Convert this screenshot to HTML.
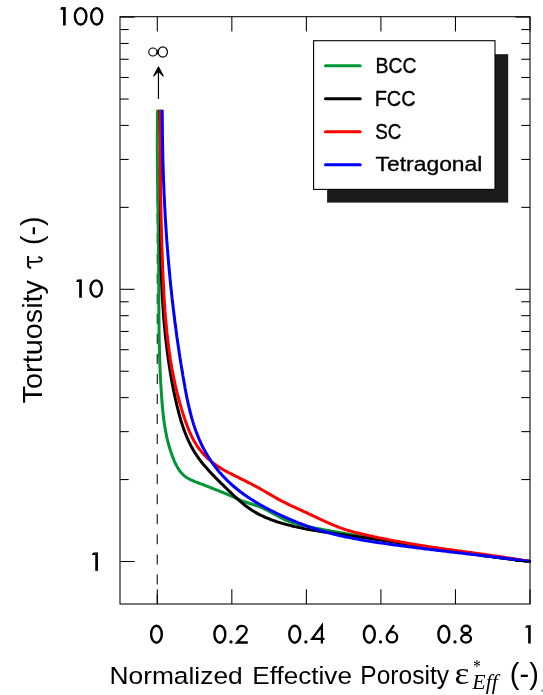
<!DOCTYPE html>
<html><head><meta charset="utf-8"><style>
html,body{margin:0;padding:0;background:#fff;width:543px;height:695px;overflow:hidden;font-family:"Liberation Sans",sans-serif;}
svg{display:block;will-change:transform}
</style></head><body>
<svg width="543" height="695" viewBox="0 0 543 695"><rect width="543" height="695" fill="#fff"/>
<line x1="157.30" y1="113.3" x2="157.30" y2="604.0" stroke="#333" stroke-width="1.3" stroke-dasharray="10 10.05"/>
<defs><clipPath id="cc"><rect x="120" y="109.8" width="411.2" height="494"/></clipPath></defs>
<g clip-path="url(#cc)">
<path d="M157.6,105.8 L157.6,107.4 L157.6,109.1 L157.6,110.7 L157.6,112.3 L157.5,114.0 L157.5,115.6 L157.5,117.2 L157.5,118.9 L157.4,120.5 L157.4,122.2 L157.4,123.8 L157.4,125.4 L157.4,127.1 L157.4,128.7 L157.4,130.3 L157.4,132.0 L157.3,133.6 L157.3,135.2 L157.3,136.9 L157.3,138.5 L157.3,140.1 L157.3,141.8 L157.3,143.4 L157.3,145.1 L157.3,146.7 L157.3,148.3 L157.3,150.0 L157.3,151.6 L157.3,153.2 L157.4,154.9 L157.4,156.5 L157.4,158.1 L157.4,159.8 L157.4,161.4 L157.4,163.0 L157.4,164.7 L157.4,166.3 L157.4,167.9 L157.5,169.6 L157.5,171.2 L157.5,172.8 L157.5,174.5 L157.5,176.1 L157.5,177.8 L157.6,179.4 L157.6,181.0 L157.6,182.7 L157.6,184.3 L157.6,185.9 L157.7,187.6 L157.7,189.2 L157.7,190.8 L157.7,192.5 L157.7,194.1 L157.8,195.7 L157.8,197.4 L157.8,199.0 L157.8,200.6 L157.9,202.3 L157.9,203.9 L157.9,205.5 L157.9,207.2 L158.0,208.8 L158.0,210.4 L158.0,212.1 L158.0,213.7 L158.0,215.3 L158.1,217.0 L158.1,218.6 L158.1,220.3 L158.1,221.9 L158.2,223.5 L158.2,225.2 L158.2,226.8 L158.2,228.4 L158.3,230.1 L158.3,231.7 L158.3,233.3 L158.3,235.0 L158.4,236.6 L158.4,238.2 L158.4,239.9 L158.4,241.5 L158.4,243.1 L158.5,244.8 L158.5,246.4 L158.5,248.0 L158.5,249.7 L158.5,251.3 L158.6,253.0 L158.6,254.6 L158.6,256.2 L158.6,257.9 L158.6,259.5 L158.6,261.1 L158.6,262.8 L158.7,264.4 L158.7,266.0 L158.7,267.7 L158.7,269.3 L158.7,270.9 L158.7,272.6 L158.7,274.2 L158.7,275.8 L158.7,277.5 L158.7,279.1 L158.7,280.8 L158.7,282.4 L158.8,284.0 L158.8,285.7 L158.8,287.3 L158.8,288.9 L158.8,290.6 L158.8,292.2 L158.8,293.8 L158.8,295.5 L158.8,297.1 L158.8,298.8 L158.8,300.4 L158.8,302.0 L158.8,303.7 L158.8,305.3 L158.8,306.9 L158.9,308.6 L158.9,310.2 L158.9,311.8 L158.9,313.5 L158.9,315.1 L158.9,316.7 L158.9,318.4 L158.9,320.0 L159.0,321.7 L159.0,323.3 L159.0,324.9 L159.0,326.6 L159.0,328.2 L159.0,329.8 L159.1,331.5 L159.1,333.1 L159.1,334.7 L159.1,336.4 L159.2,338.0 L159.2,339.6 L159.2,341.3 L159.3,342.9 L159.3,344.5 L159.3,346.2 L159.4,347.8 L159.4,349.4 L159.5,351.1 L159.5,352.7 L159.5,354.4 L159.6,356.0 L159.6,357.6 L159.7,359.3 L159.7,360.9 L159.8,362.5 L159.9,364.2 L159.9,365.8 L160.0,367.4 L160.1,369.1 L160.1,370.7 L160.2,372.3 L160.3,374.0 L160.4,375.6 L160.4,377.2 L160.5,378.9 L160.6,380.5 L160.7,382.1 L160.8,383.7 L160.9,385.4 L161.0,387.0 L161.1,388.6 L161.2,390.3 L161.3,391.9 L161.4,393.5 L161.5,395.2 L161.6,396.8 L161.8,398.4 L161.9,400.1 L162.0,401.7 L162.1,403.3 L162.3,405.0 L162.4,406.6 L162.6,408.2 L162.7,409.8 L162.9,411.5 L163.1,413.1 L163.2,414.7 L163.4,416.3 L163.6,418.0 L163.8,419.6 L164.0,421.2 L164.2,422.8 L164.5,424.4 L164.7,426.0 L165.0,427.7 L165.3,429.3 L165.6,430.9 L165.9,432.5 L166.2,434.1 L166.5,435.7 L166.8,437.3 L167.2,438.9 L167.6,440.5 L168.0,442.0 L168.4,443.6 L168.8,445.2 L169.3,446.8 L169.7,448.3 L170.2,449.9 L170.7,451.5 L171.3,453.0 L171.8,454.6 L172.4,456.2 L173.0,457.7 L173.6,459.2 L174.2,460.8 L174.9,462.3 L175.6,463.8 L176.4,465.3 L177.1,466.7 L178.0,468.1 L178.8,469.5 L179.8,470.8 L180.7,472.1 L181.8,473.3 L182.9,474.5 L184.0,475.6 L185.3,476.6 L186.6,477.5 L187.9,478.3 L189.3,479.1 L190.8,479.8 L192.3,480.5 L193.9,481.1 L195.4,481.8 L197.0,482.4 L198.5,483.0 L200.1,483.6 L201.6,484.1 L203.1,484.7 L204.7,485.3 L206.2,485.9 L207.7,486.5 L209.3,487.1 L210.8,487.7 L212.3,488.3 L213.8,488.9 L215.3,489.5 L216.9,490.1 L218.4,490.7 L219.9,491.3 L221.4,491.9 L222.9,492.5 L224.4,493.1 L225.8,493.7 L227.3,494.4 L228.8,495.0 L230.3,495.7 L231.8,496.3 L233.2,497.0 L234.7,497.7 L236.2,498.3 L237.7,499.0 L239.2,499.6 L240.7,500.3 L242.2,500.9 L243.7,501.5 L245.2,502.0 L246.7,502.5 L248.3,503.0 L249.9,503.5 L251.4,504.0 L253.0,504.5 L254.6,505.0 L256.1,505.5 L257.6,506.0 L259.2,506.6 L260.7,507.2 L262.2,507.9 L263.7,508.6 L265.1,509.3 L266.6,510.0 L268.1,510.8 L269.5,511.6 L271.0,512.3 L272.4,513.1 L273.9,513.9 L275.3,514.7 L276.8,515.5 L278.2,516.3 L279.7,517.1 L281.1,517.8 L282.6,518.6 L284.0,519.3 L285.5,520.0 L287.0,520.6 L288.5,521.2 L290.0,521.8 L291.5,522.4 L293.1,522.9 L294.6,523.4 L296.2,523.8 L297.8,524.3 L299.3,524.7 L300.9,525.1 L302.5,525.4 L304.1,525.8 L305.7,526.1 L307.3,526.5 L308.9,526.8 L310.5,527.1 L312.1,527.4 L313.7,527.8 L315.3,528.1 L316.9,528.4 L318.5,528.7 L320.1,529.0 L321.7,529.3 L323.3,529.6 L325.0,529.9 L326.6,530.2 L328.2,530.5 L329.8,530.8 L331.4,531.1 L333.0,531.4 L334.6,531.6 L336.2,531.9 L337.8,532.2 L339.4,532.5 L341.1,532.8 L342.7,533.0 L344.3,533.3 L345.9,533.6 L347.5,533.9 L349.1,534.1 L350.7,534.4 L352.3,534.7 L354.0,534.9 L355.6,535.2 L357.2,535.5 L358.8,535.7 L360.4,536.0 L362.0,536.3 L363.6,536.6 L365.3,536.8 L366.9,537.1 L368.5,537.4 L370.1,537.6 L371.7,537.9 L373.3,538.2 L374.9,538.5 L376.5,538.7 L378.2,539.0 L379.8,539.3 L381.4,539.5 L383.0,539.8 L384.6,540.1 L386.2,540.3 L387.8,540.6 L389.4,540.9 L391.1,541.1 L392.7,541.4 L394.3,541.7 L395.9,541.9 L397.5,542.2 L399.1,542.5 L400.7,542.7 L402.4,543.0 L404.0,543.3 L405.6,543.5 L407.2,543.8 L408.8,544.1 L410.4,544.3 L412.0,544.6 L413.6,544.9 L415.3,545.1 L416.9,545.4 L418.5,545.7 L420.1,545.9 L421.7,546.2 L423.3,546.4 L424.9,546.7 L426.6,546.9 L428.2,547.2 L429.8,547.5 L431.4,547.7 L433.0,548.0 L434.6,548.2 L436.2,548.5 L437.9,548.7 L439.5,549.0 L441.1,549.2 L442.7,549.5 L444.3,549.7 L445.9,550.0 L447.6,550.2 L449.2,550.5 L450.8,550.7 L452.4,551.0 L454.0,551.2 L455.6,551.5 L457.2,551.7 L458.9,552.0 L460.5,552.2 L462.1,552.4 L463.7,552.7 L465.3,552.9 L467.0,553.2 L468.6,553.4 L470.2,553.6 L471.8,553.9 L473.4,554.1 L475.0,554.3 L476.7,554.6 L478.3,554.8 L479.9,555.0 L481.5,555.3 L483.1,555.5 L484.8,555.7 L486.4,555.9 L488.0,556.2 L489.6,556.4 L491.2,556.6 L492.9,556.8 L494.5,557.0 L496.1,557.2 L497.7,557.5 L499.3,557.7 L501.0,557.9 L502.6,558.1 L504.2,558.3 L505.8,558.5 L507.5,558.7 L509.1,558.9 L510.7,559.1 L512.3,559.3 L513.9,559.5 L515.6,559.7 L517.2,559.9 L518.8,560.1 L520.4,560.3 L522.1,560.5 L523.7,560.7 L525.3,560.9 L526.9,561.1 L528.6,561.3 L530.2,561.5 L531.0,561.6" fill="none" stroke="#009634" stroke-width="3" stroke-linejoin="round"/>
<path d="M160.0,105.8 L159.8,107.4 L159.8,109.0 L159.9,110.6 L159.9,112.2 L160.0,113.8 L160.0,115.4 L160.0,117.0 L160.1,118.6 L160.1,120.1 L160.1,121.7 L160.2,123.3 L160.2,124.9 L160.2,126.5 L160.3,128.1 L160.3,129.7 L160.3,131.3 L160.3,132.9 L160.3,134.5 L160.4,136.1 L160.4,137.7 L160.4,139.2 L160.4,140.8 L160.4,142.4 L160.4,144.0 L160.5,145.6 L160.5,147.2 L160.5,148.8 L160.5,150.4 L160.5,152.0 L160.5,153.6 L160.5,155.2 L160.5,156.8 L160.5,158.4 L160.5,160.0 L160.5,161.6 L160.5,163.2 L160.5,164.8 L160.5,166.4 L160.5,168.0 L160.5,169.6 L160.5,171.2 L160.5,172.8 L160.5,174.4 L160.5,176.0 L160.5,177.6 L160.5,179.2 L160.5,180.8 L160.5,182.4 L160.5,184.0 L160.5,185.6 L160.5,187.2 L160.5,188.8 L160.5,190.4 L160.5,192.0 L160.5,193.6 L160.5,195.2 L160.5,196.8 L160.5,198.4 L160.5,200.0 L160.5,201.6 L160.5,203.2 L160.5,204.8 L160.5,206.4 L160.5,208.0 L160.5,209.6 L160.5,211.2 L160.5,212.8 L160.5,214.4 L160.5,216.0 L160.5,217.6 L160.5,219.2 L160.5,220.8 L160.5,222.4 L160.5,224.0 L160.5,225.6 L160.5,227.2 L160.5,228.8 L160.5,230.4 L160.6,232.0 L160.6,233.6 L160.6,235.2 L160.6,236.8 L160.6,238.4 L160.6,240.0 L160.6,241.6 L160.7,243.2 L160.7,244.8 L160.7,246.4 L160.7,248.0 L160.8,249.6 L160.8,251.2 L160.8,252.8 L160.8,254.4 L160.9,256.0 L160.9,257.6 L160.9,259.2 L161.0,260.8 L161.0,262.4 L161.1,264.0 L161.1,265.6 L161.1,267.2 L161.2,268.8 L161.2,270.4 L161.3,272.0 L161.3,273.6 L161.4,275.2 L161.4,276.8 L161.5,278.4 L161.6,280.0 L161.6,281.6 L161.7,283.2 L161.8,284.8 L161.8,286.4 L161.9,288.0 L162.0,289.6 L162.1,291.2 L162.1,292.8 L162.2,294.4 L162.3,296.0 L162.4,297.6 L162.5,299.2 L162.6,300.8 L162.7,302.4 L162.8,304.0 L162.9,305.6 L163.0,307.2 L163.1,308.8 L163.2,310.4 L163.3,311.9 L163.4,313.5 L163.5,315.1 L163.7,316.7 L163.8,318.3 L163.9,319.9 L164.1,321.5 L164.2,323.1 L164.3,324.7 L164.5,326.3 L164.6,327.9 L164.8,329.4 L164.9,331.0 L165.1,332.6 L165.2,334.2 L165.4,335.8 L165.6,337.4 L165.7,339.0 L165.9,340.5 L166.1,342.1 L166.3,343.7 L166.5,345.3 L166.7,346.9 L166.9,348.5 L167.1,350.1 L167.3,351.6 L167.5,353.2 L167.7,354.8 L167.9,356.4 L168.1,358.0 L168.3,359.5 L168.6,361.1 L168.8,362.7 L169.0,364.3 L169.3,365.9 L169.5,367.4 L169.8,369.0 L170.0,370.6 L170.3,372.2 L170.5,373.7 L170.8,375.3 L171.1,376.9 L171.4,378.5 L171.6,380.0 L171.9,381.6 L172.2,383.2 L172.5,384.7 L172.8,386.3 L173.1,387.9 L173.4,389.4 L173.7,391.0 L174.1,392.6 L174.4,394.1 L174.7,395.7 L175.1,397.3 L175.4,398.8 L175.8,400.4 L176.1,402.0 L176.5,403.5 L176.8,405.1 L177.2,406.6 L177.6,408.2 L178.0,409.8 L178.4,411.3 L178.8,412.9 L179.2,414.4 L179.6,415.9 L180.0,417.5 L180.5,419.0 L180.9,420.5 L181.4,422.1 L181.9,423.6 L182.4,425.1 L182.9,426.6 L183.4,428.1 L183.9,429.6 L184.5,431.1 L185.0,432.6 L185.6,434.0 L186.2,435.5 L186.8,437.0 L187.4,438.4 L188.1,439.9 L188.7,441.3 L189.4,442.7 L190.1,444.1 L190.8,445.5 L191.6,446.9 L192.3,448.3 L193.1,449.7 L193.9,451.0 L194.7,452.4 L195.5,453.7 L196.4,455.0 L197.3,456.3 L198.2,457.6 L199.1,458.9 L200.1,460.2 L201.0,461.5 L202.0,462.7 L203.0,464.0 L204.1,465.2 L205.1,466.4 L206.2,467.6 L207.2,468.8 L208.3,470.0 L209.4,471.2 L210.5,472.4 L211.6,473.6 L212.7,474.8 L213.9,475.9 L215.0,477.1 L216.1,478.3 L217.3,479.4 L218.4,480.6 L219.6,481.7 L220.7,482.9 L221.9,484.0 L223.1,485.1 L224.2,486.3 L225.4,487.4 L226.5,488.6 L227.7,489.7 L228.8,490.8 L230.0,491.9 L231.2,493.1 L232.3,494.2 L233.5,495.3 L234.6,496.4 L235.8,497.5 L237.0,498.5 L238.2,499.6 L239.4,500.7 L240.6,501.7 L241.8,502.7 L243.0,503.7 L244.2,504.7 L245.5,505.7 L246.7,506.6 L248.0,507.5 L249.3,508.4 L250.6,509.3 L251.9,510.2 L253.2,511.0 L254.5,511.8 L255.9,512.6 L257.2,513.4 L258.6,514.1 L260.0,514.8 L261.4,515.5 L262.9,516.2 L264.3,516.9 L265.7,517.5 L267.2,518.1 L268.7,518.7 L270.1,519.3 L271.6,519.9 L273.1,520.4 L274.6,520.9 L276.1,521.5 L277.6,522.0 L279.2,522.4 L280.7,522.9 L282.2,523.4 L283.8,523.8 L285.3,524.2 L286.9,524.6 L288.4,525.0 L290.0,525.4 L291.5,525.8 L293.1,526.2 L294.7,526.6 L296.2,526.9 L297.8,527.3 L299.4,527.6 L300.9,527.9 L302.5,528.2 L304.1,528.6 L305.7,528.9 L307.2,529.2 L308.8,529.5 L310.4,529.8 L312.0,530.0 L313.5,530.3 L315.1,530.6 L316.7,530.8 L318.3,531.1 L319.9,531.4 L321.4,531.6 L323.0,531.9 L324.6,532.1 L326.2,532.3 L327.8,532.6 L329.3,532.8 L330.9,533.0 L332.5,533.3 L334.1,533.5 L335.7,533.7 L337.3,533.9 L338.8,534.2 L340.4,534.4 L342.0,534.6 L343.6,534.8 L345.2,535.0 L346.8,535.2 L348.4,535.5 L349.9,535.7 L351.5,535.9 L353.1,536.1 L354.7,536.3 L356.3,536.5 L357.9,536.8 L359.4,537.0 L361.0,537.2 L362.6,537.4 L364.2,537.6 L365.8,537.9 L367.4,538.1 L368.9,538.3 L370.5,538.5 L372.1,538.8 L373.7,539.0 L375.3,539.2 L376.8,539.5 L378.4,539.7 L380.0,539.9 L381.6,540.2 L383.2,540.4 L384.7,540.6 L386.3,540.9 L387.9,541.1 L389.5,541.4 L391.1,541.6 L392.6,541.8 L394.2,542.1 L395.8,542.3 L397.4,542.6 L398.9,542.8 L400.5,543.0 L402.1,543.3 L403.7,543.5 L405.3,543.8 L406.8,544.0 L408.4,544.3 L410.0,544.5 L411.6,544.7 L413.1,545.0 L414.7,545.2 L416.3,545.5 L417.9,545.7 L419.5,546.0 L421.0,546.2 L422.6,546.5 L424.2,546.7 L425.8,546.9 L427.3,547.2 L428.9,547.4 L430.5,547.7 L432.1,547.9 L433.7,548.2 L435.2,548.4 L436.8,548.6 L438.4,548.9 L440.0,549.1 L441.5,549.4 L443.1,549.6 L444.7,549.9 L446.3,550.1 L447.9,550.3 L449.4,550.6 L451.0,550.8 L452.6,551.1 L454.2,551.3 L455.7,551.5 L457.3,551.8 L458.9,552.0 L460.5,552.2 L462.1,552.5 L463.6,552.7 L465.2,553.0 L466.8,553.2 L468.4,553.4 L470.0,553.6 L471.5,553.9 L473.1,554.1 L474.7,554.3 L476.3,554.6 L477.9,554.8 L479.4,555.0 L481.0,555.2 L482.6,555.5 L484.2,555.7 L485.8,555.9 L487.4,556.1 L488.9,556.3 L490.5,556.6 L492.1,556.8 L493.7,557.0 L495.3,557.2 L496.9,557.4 L498.4,557.6 L500.0,557.8 L501.6,558.0 L503.2,558.2 L504.8,558.4 L506.4,558.6 L508.0,558.8 L509.6,559.0 L511.1,559.2 L512.7,559.4 L514.3,559.6 L515.9,559.8 L517.5,560.0 L519.1,560.2 L520.7,560.4 L522.3,560.6 L523.9,560.8 L525.4,560.9 L527.0,561.1 L528.6,561.3 L530.2,561.5 L531.0,561.6" fill="none" stroke="#000" stroke-width="3" stroke-linejoin="round"/>
<path d="M160.3,105.8 L160.3,107.3 L160.3,108.9 L160.3,110.5 L160.3,112.1 L160.3,113.6 L160.3,115.2 L160.2,116.8 L160.2,118.4 L160.2,119.9 L160.2,121.5 L160.2,123.1 L160.2,124.7 L160.2,126.2 L160.2,127.8 L160.2,129.4 L160.2,131.0 L160.2,132.5 L160.2,134.1 L160.2,135.7 L160.2,137.2 L160.2,138.8 L160.2,140.4 L160.2,142.0 L160.2,143.5 L160.2,145.1 L160.2,146.7 L160.2,148.2 L160.2,149.8 L160.2,151.4 L160.2,152.9 L160.2,154.5 L160.2,156.1 L160.2,157.6 L160.2,159.2 L160.2,160.8 L160.3,162.4 L160.3,163.9 L160.3,165.5 L160.3,167.1 L160.3,168.6 L160.3,170.2 L160.3,171.8 L160.4,173.3 L160.4,174.9 L160.4,176.5 L160.4,178.0 L160.4,179.6 L160.4,181.2 L160.5,182.7 L160.5,184.3 L160.5,185.9 L160.5,187.4 L160.5,189.0 L160.6,190.6 L160.6,192.1 L160.6,193.7 L160.6,195.3 L160.7,196.8 L160.7,198.4 L160.7,200.0 L160.8,201.5 L160.8,203.1 L160.8,204.7 L160.9,206.2 L160.9,207.8 L160.9,209.4 L161.0,210.9 L161.0,212.5 L161.0,214.1 L161.1,215.6 L161.1,217.2 L161.1,218.8 L161.2,220.3 L161.2,221.9 L161.2,223.5 L161.3,225.0 L161.3,226.6 L161.4,228.2 L161.4,229.7 L161.5,231.3 L161.5,232.9 L161.5,234.4 L161.6,236.0 L161.6,237.6 L161.7,239.1 L161.7,240.7 L161.8,242.3 L161.8,243.8 L161.9,245.4 L161.9,247.0 L162.0,248.6 L162.0,250.1 L162.1,251.7 L162.2,253.3 L162.2,254.8 L162.3,256.4 L162.3,258.0 L162.4,259.5 L162.4,261.1 L162.5,262.7 L162.6,264.3 L162.6,265.8 L162.7,267.4 L162.7,269.0 L162.8,270.5 L162.9,272.1 L162.9,273.7 L163.0,275.2 L163.1,276.8 L163.1,278.4 L163.2,280.0 L163.3,281.5 L163.4,283.1 L163.4,284.7 L163.5,286.3 L163.6,287.8 L163.7,289.4 L163.8,291.0 L163.8,292.5 L163.9,294.1 L164.0,295.7 L164.1,297.3 L164.2,298.8 L164.3,300.4 L164.4,302.0 L164.5,303.5 L164.6,305.1 L164.7,306.7 L164.8,308.2 L164.9,309.8 L165.0,311.4 L165.2,312.9 L165.3,314.5 L165.4,316.1 L165.5,317.7 L165.7,319.2 L165.8,320.8 L165.9,322.3 L166.1,323.9 L166.2,325.5 L166.4,327.0 L166.5,328.6 L166.7,330.2 L166.8,331.7 L167.0,333.3 L167.2,334.9 L167.4,336.4 L167.5,338.0 L167.7,339.5 L167.9,341.1 L168.1,342.6 L168.3,344.2 L168.5,345.8 L168.7,347.3 L168.9,348.9 L169.1,350.4 L169.3,352.0 L169.5,353.5 L169.8,355.1 L170.0,356.6 L170.2,358.2 L170.5,359.7 L170.7,361.3 L171.0,362.8 L171.2,364.4 L171.5,365.9 L171.8,367.4 L172.0,369.0 L172.3,370.5 L172.6,372.1 L172.9,373.6 L173.2,375.1 L173.5,376.7 L173.8,378.2 L174.1,379.7 L174.5,381.3 L174.8,382.8 L175.1,384.3 L175.5,385.8 L175.8,387.4 L176.2,388.9 L176.5,390.4 L176.9,391.9 L177.3,393.5 L177.7,395.0 L178.1,396.5 L178.5,398.0 L178.9,399.5 L179.3,401.0 L179.7,402.6 L180.1,404.1 L180.6,405.6 L181.0,407.1 L181.4,408.6 L181.9,410.1 L182.4,411.6 L182.8,413.1 L183.3,414.6 L183.8,416.1 L184.3,417.6 L184.8,419.1 L185.3,420.6 L185.8,422.1 L186.4,423.5 L186.9,425.0 L187.5,426.5 L188.0,428.0 L188.6,429.4 L189.2,430.9 L189.8,432.3 L190.5,433.8 L191.1,435.2 L191.8,436.6 L192.5,438.0 L193.2,439.4 L194.0,440.8 L194.8,442.1 L195.6,443.5 L196.4,444.8 L197.2,446.1 L198.1,447.4 L199.0,448.7 L200.0,449.9 L201.0,451.2 L202.0,452.4 L203.0,453.5 L204.0,454.7 L205.1,455.8 L206.2,457.0 L207.4,458.1 L208.5,459.1 L209.7,460.2 L210.9,461.2 L212.1,462.2 L213.3,463.1 L214.6,464.1 L215.9,465.0 L217.1,465.9 L218.5,466.7 L219.8,467.6 L221.1,468.4 L222.5,469.2 L223.8,470.0 L225.2,470.8 L226.6,471.5 L228.0,472.3 L229.4,473.0 L230.8,473.7 L232.2,474.4 L233.6,475.1 L235.0,475.8 L236.4,476.5 L237.8,477.2 L239.2,477.9 L240.6,478.6 L242.0,479.3 L243.4,480.0 L244.8,480.7 L246.2,481.4 L247.6,482.1 L249.0,482.8 L250.4,483.5 L251.8,484.2 L253.2,485.0 L254.5,485.7 L255.9,486.4 L257.3,487.2 L258.7,487.9 L260.1,488.7 L261.4,489.5 L262.8,490.2 L264.2,491.0 L265.5,491.8 L266.9,492.6 L268.2,493.4 L269.6,494.1 L270.9,494.9 L272.3,495.7 L273.7,496.5 L275.0,497.3 L276.4,498.1 L277.7,498.9 L279.1,499.6 L280.5,500.4 L281.9,501.1 L283.3,501.8 L284.7,502.5 L286.1,503.2 L287.5,503.9 L288.9,504.6 L290.3,505.3 L291.7,505.9 L293.1,506.6 L294.6,507.2 L296.0,507.9 L297.4,508.5 L298.8,509.2 L300.3,509.8 L301.7,510.5 L303.1,511.1 L304.5,511.8 L306.0,512.5 L307.4,513.1 L308.8,513.8 L310.2,514.5 L311.7,515.1 L313.1,515.8 L314.5,516.5 L315.9,517.2 L317.4,517.8 L318.8,518.5 L320.2,519.2 L321.6,519.8 L323.1,520.5 L324.5,521.2 L325.9,521.8 L327.3,522.4 L328.8,523.1 L330.2,523.7 L331.7,524.3 L333.1,524.9 L334.5,525.5 L336.0,526.1 L337.5,526.7 L338.9,527.3 L340.4,527.8 L341.9,528.3 L343.3,528.8 L344.8,529.3 L346.3,529.8 L347.8,530.3 L349.3,530.7 L350.8,531.2 L352.3,531.6 L353.8,532.0 L355.3,532.4 L356.9,532.7 L358.4,533.1 L359.9,533.5 L361.4,533.8 L363.0,534.2 L364.5,534.5 L366.0,534.9 L367.6,535.2 L369.1,535.6 L370.6,535.9 L372.2,536.2 L373.7,536.6 L375.2,536.9 L376.8,537.2 L378.3,537.6 L379.8,537.9 L381.4,538.2 L382.9,538.5 L384.5,538.8 L386.0,539.1 L387.5,539.5 L389.1,539.8 L390.6,540.1 L392.2,540.4 L393.7,540.7 L395.2,540.9 L396.8,541.2 L398.3,541.5 L399.9,541.8 L401.4,542.1 L403.0,542.4 L404.5,542.6 L406.1,542.9 L407.6,543.2 L409.1,543.4 L410.7,543.7 L412.2,543.9 L413.8,544.2 L415.3,544.5 L416.9,544.7 L418.4,545.0 L420.0,545.2 L421.5,545.5 L423.1,545.7 L424.6,545.9 L426.2,546.2 L427.7,546.4 L429.3,546.7 L430.8,546.9 L432.4,547.1 L433.9,547.4 L435.5,547.6 L437.0,547.8 L438.6,548.1 L440.2,548.3 L441.7,548.5 L443.3,548.7 L444.8,548.9 L446.4,549.2 L447.9,549.4 L449.5,549.6 L451.0,549.8 L452.6,550.0 L454.1,550.3 L455.7,550.5 L457.2,550.7 L458.8,550.9 L460.4,551.1 L461.9,551.3 L463.5,551.6 L465.0,551.8 L466.6,552.0 L468.1,552.2 L469.7,552.4 L471.2,552.6 L472.8,552.8 L474.4,553.1 L475.9,553.3 L477.5,553.5 L479.0,553.7 L480.6,553.9 L482.1,554.1 L483.7,554.3 L485.2,554.6 L486.8,554.8 L488.3,555.0 L489.9,555.2 L491.5,555.4 L493.0,555.7 L494.6,555.9 L496.1,556.1 L497.7,556.3 L499.2,556.5 L500.8,556.8 L502.3,557.0 L503.9,557.2 L505.4,557.5 L507.0,557.7 L508.5,557.9 L510.1,558.2 L511.6,558.4 L513.2,558.6 L514.7,558.9 L516.3,559.1 L517.8,559.4 L519.4,559.6 L520.9,559.8 L522.5,560.1 L524.0,560.4 L525.6,560.6 L527.1,560.9 L528.7,561.1 L530.2,561.4 L531.0,561.6" fill="none" stroke="#ff0000" stroke-width="3" stroke-linejoin="round"/>
<path d="M162.3,105.8 L162.2,107.3 L162.2,108.9 L162.2,110.5 L162.2,112.0 L162.2,113.6 L162.2,115.2 L162.3,116.8 L162.3,118.4 L162.3,120.0 L162.3,121.6 L162.3,123.1 L162.3,124.7 L162.3,126.3 L162.3,127.9 L162.4,129.5 L162.4,131.0 L162.4,132.6 L162.4,134.2 L162.4,135.8 L162.5,137.4 L162.5,138.9 L162.5,140.5 L162.5,142.1 L162.6,143.7 L162.6,145.2 L162.6,146.8 L162.7,148.4 L162.7,150.0 L162.7,151.5 L162.8,153.1 L162.8,154.7 L162.8,156.3 L162.9,157.8 L162.9,159.4 L162.9,161.0 L163.0,162.6 L163.0,164.1 L163.1,165.7 L163.1,167.3 L163.2,168.9 L163.2,170.4 L163.3,172.0 L163.3,173.6 L163.4,175.1 L163.4,176.7 L163.5,178.3 L163.5,179.9 L163.6,181.4 L163.7,183.0 L163.7,184.6 L163.8,186.1 L163.8,187.7 L163.9,189.3 L164.0,190.8 L164.0,192.4 L164.1,194.0 L164.2,195.5 L164.3,197.1 L164.3,198.7 L164.4,200.2 L164.5,201.8 L164.6,203.4 L164.6,204.9 L164.7,206.5 L164.8,208.1 L164.9,209.6 L165.0,211.2 L165.1,212.8 L165.1,214.3 L165.2,215.9 L165.3,217.5 L165.4,219.0 L165.5,220.6 L165.6,222.2 L165.7,223.7 L165.8,225.3 L165.9,226.8 L166.0,228.4 L166.1,230.0 L166.2,231.5 L166.3,233.1 L166.4,234.7 L166.5,236.2 L166.6,237.8 L166.7,239.3 L166.8,240.9 L167.0,242.5 L167.1,244.0 L167.2,245.6 L167.3,247.2 L167.4,248.7 L167.6,250.3 L167.7,251.8 L167.8,253.4 L167.9,255.0 L168.1,256.5 L168.2,258.1 L168.3,259.6 L168.5,261.2 L168.6,262.8 L168.7,264.3 L168.9,265.9 L169.0,267.5 L169.1,269.0 L169.3,270.6 L169.4,272.1 L169.6,273.7 L169.7,275.3 L169.9,276.8 L170.0,278.4 L170.2,279.9 L170.3,281.5 L170.5,283.1 L170.6,284.6 L170.8,286.2 L171.0,287.7 L171.1,289.3 L171.3,290.9 L171.5,292.4 L171.6,294.0 L171.8,295.5 L172.0,297.1 L172.1,298.7 L172.3,300.2 L172.5,301.8 L172.7,303.3 L172.9,304.9 L173.0,306.5 L173.2,308.0 L173.4,309.6 L173.6,311.1 L173.8,312.7 L174.0,314.3 L174.2,315.8 L174.4,317.4 L174.6,318.9 L174.7,320.5 L174.9,322.1 L175.1,323.6 L175.4,325.2 L175.6,326.7 L175.8,328.3 L176.0,329.9 L176.2,331.4 L176.4,333.0 L176.6,334.5 L176.8,336.1 L177.0,337.7 L177.3,339.2 L177.5,340.8 L177.7,342.4 L177.9,343.9 L178.2,345.5 L178.4,347.0 L178.6,348.6 L178.9,350.2 L179.1,351.7 L179.3,353.3 L179.6,354.9 L179.8,356.4 L180.0,358.0 L180.3,359.5 L180.5,361.1 L180.8,362.7 L181.0,364.2 L181.3,365.8 L181.5,367.4 L181.8,368.9 L182.1,370.5 L182.3,372.1 L182.6,373.6 L182.8,375.2 L183.1,376.7 L183.4,378.3 L183.7,379.9 L183.9,381.4 L184.2,383.0 L184.5,384.6 L184.8,386.1 L185.0,387.7 L185.3,389.3 L185.6,390.8 L185.9,392.4 L186.2,393.9 L186.5,395.5 L186.8,397.1 L187.1,398.6 L187.5,400.2 L187.8,401.7 L188.1,403.3 L188.5,404.8 L188.8,406.4 L189.2,407.9 L189.6,409.4 L189.9,411.0 L190.3,412.5 L190.7,414.0 L191.1,415.6 L191.5,417.1 L191.9,418.6 L192.4,420.1 L192.8,421.6 L193.3,423.1 L193.7,424.6 L194.2,426.1 L194.7,427.6 L195.2,429.0 L195.7,430.5 L196.3,432.0 L196.8,433.4 L197.4,434.9 L198.0,436.3 L198.5,437.8 L199.1,439.2 L199.8,440.6 L200.4,442.0 L201.0,443.5 L201.7,444.9 L202.4,446.3 L203.1,447.6 L203.8,449.0 L204.6,450.4 L205.3,451.7 L206.1,453.1 L206.9,454.4 L207.7,455.8 L208.5,457.1 L209.3,458.4 L210.2,459.7 L211.0,461.0 L211.9,462.3 L212.8,463.6 L213.7,464.8 L214.7,466.1 L215.6,467.3 L216.6,468.5 L217.5,469.8 L218.5,471.0 L219.5,472.2 L220.6,473.3 L221.6,474.5 L222.6,475.7 L223.7,476.8 L224.8,477.9 L225.9,479.1 L227.0,480.2 L228.1,481.3 L229.2,482.3 L230.4,483.4 L231.5,484.5 L232.7,485.5 L233.9,486.5 L235.1,487.5 L236.3,488.5 L237.5,489.5 L238.8,490.5 L240.0,491.5 L241.3,492.4 L242.5,493.3 L243.8,494.3 L245.1,495.2 L246.4,496.1 L247.7,497.0 L249.0,497.8 L250.3,498.7 L251.7,499.6 L253.0,500.4 L254.3,501.2 L255.7,502.1 L257.1,502.9 L258.4,503.7 L259.8,504.5 L261.2,505.3 L262.6,506.0 L264.0,506.8 L265.4,507.6 L266.8,508.3 L268.2,509.0 L269.6,509.8 L271.0,510.5 L272.4,511.2 L273.8,511.9 L275.3,512.6 L276.7,513.3 L278.1,514.0 L279.6,514.7 L281.0,515.3 L282.4,516.0 L283.9,516.6 L285.3,517.3 L286.8,517.9 L288.2,518.6 L289.6,519.2 L291.1,519.8 L292.5,520.4 L294.0,521.0 L295.4,521.6 L296.9,522.2 L298.4,522.8 L299.8,523.3 L301.3,523.9 L302.8,524.5 L304.2,525.0 L305.7,525.5 L307.2,526.1 L308.6,526.6 L310.1,527.1 L311.6,527.6 L313.1,528.1 L314.6,528.6 L316.1,529.1 L317.5,529.6 L319.0,530.0 L320.5,530.5 L322.0,530.9 L323.5,531.4 L325.0,531.8 L326.5,532.2 L328.0,532.6 L329.6,533.0 L331.1,533.4 L332.6,533.8 L334.1,534.2 L335.6,534.6 L337.1,535.0 L338.7,535.3 L340.2,535.7 L341.7,536.0 L343.2,536.3 L344.8,536.7 L346.3,537.0 L347.8,537.3 L349.4,537.6 L350.9,537.9 L352.5,538.2 L354.0,538.5 L355.6,538.8 L357.1,539.1 L358.6,539.4 L360.2,539.7 L361.7,539.9 L363.3,540.2 L364.8,540.5 L366.4,540.7 L367.9,541.0 L369.5,541.2 L371.0,541.5 L372.6,541.7 L374.2,542.0 L375.7,542.2 L377.3,542.4 L378.8,542.7 L380.4,542.9 L381.9,543.1 L383.5,543.3 L385.1,543.6 L386.6,543.8 L388.2,544.0 L389.7,544.2 L391.3,544.4 L392.9,544.7 L394.4,544.9 L396.0,545.1 L397.5,545.3 L399.1,545.5 L400.7,545.7 L402.2,545.9 L403.8,546.1 L405.3,546.3 L406.9,546.5 L408.5,546.7 L410.0,546.9 L411.6,547.1 L413.1,547.3 L414.7,547.5 L416.3,547.7 L417.8,547.9 L419.4,548.1 L420.9,548.3 L422.5,548.5 L424.1,548.7 L425.6,548.9 L427.2,549.1 L428.8,549.3 L430.3,549.5 L431.9,549.7 L433.4,549.8 L435.0,550.0 L436.6,550.2 L438.1,550.4 L439.7,550.6 L441.3,550.8 L442.8,551.0 L444.4,551.1 L445.9,551.3 L447.5,551.5 L449.1,551.7 L450.6,551.9 L452.2,552.1 L453.8,552.2 L455.3,552.4 L456.9,552.6 L458.4,552.8 L460.0,553.0 L461.6,553.1 L463.1,553.3 L464.7,553.5 L466.2,553.7 L467.8,553.9 L469.4,554.0 L470.9,554.2 L472.5,554.4 L474.1,554.6 L475.6,554.8 L477.2,554.9 L478.7,555.1 L480.3,555.3 L481.9,555.5 L483.4,555.7 L485.0,555.9 L486.6,556.0 L488.1,556.2 L489.7,556.4 L491.2,556.6 L492.8,556.8 L494.4,557.0 L495.9,557.2 L497.5,557.4 L499.0,557.5 L500.6,557.7 L502.2,557.9 L503.7,558.1 L505.3,558.3 L506.8,558.5 L508.4,558.7 L510.0,558.9 L511.5,559.1 L513.1,559.3 L514.6,559.5 L516.2,559.7 L517.8,559.9 L519.3,560.1 L520.9,560.3 L522.4,560.5 L524.0,560.7 L525.5,560.9 L527.1,561.1 L528.7,561.3 L530.2,561.5 L531.0,561.6" fill="none" stroke="#0000ff" stroke-width="3" stroke-linejoin="round"/>
</g>
<circle cx="542.2" cy="690.6" r="1.1" fill="#8a8a8a"/>
<rect x="120.0" y="16.7" width="410.00" height="587.30" fill="none" stroke="#000" stroke-width="1.05"/>
<line x1="120.00" y1="561.50" x2="134.60" y2="561.50" stroke="#000" stroke-width="1.05"/>
<line x1="530.00" y1="561.50" x2="515.40" y2="561.50" stroke="#000" stroke-width="1.05"/>
<line x1="120.00" y1="289.30" x2="134.60" y2="289.30" stroke="#000" stroke-width="1.05"/>
<line x1="530.00" y1="289.30" x2="515.40" y2="289.30" stroke="#000" stroke-width="1.05"/>
<line x1="120.00" y1="17.10" x2="134.60" y2="17.10" stroke="#000" stroke-width="1.05"/>
<line x1="530.00" y1="17.10" x2="515.40" y2="17.10" stroke="#000" stroke-width="1.05"/>
<line x1="120.00" y1="479.56" x2="128.70" y2="479.56" stroke="#000" stroke-width="1.05"/>
<line x1="530.00" y1="479.56" x2="521.30" y2="479.56" stroke="#000" stroke-width="1.05"/>
<line x1="120.00" y1="431.63" x2="128.70" y2="431.63" stroke="#000" stroke-width="1.05"/>
<line x1="530.00" y1="431.63" x2="521.30" y2="431.63" stroke="#000" stroke-width="1.05"/>
<line x1="120.00" y1="397.62" x2="128.70" y2="397.62" stroke="#000" stroke-width="1.05"/>
<line x1="530.00" y1="397.62" x2="521.30" y2="397.62" stroke="#000" stroke-width="1.05"/>
<line x1="120.00" y1="371.24" x2="128.70" y2="371.24" stroke="#000" stroke-width="1.05"/>
<line x1="530.00" y1="371.24" x2="521.30" y2="371.24" stroke="#000" stroke-width="1.05"/>
<line x1="120.00" y1="349.69" x2="128.70" y2="349.69" stroke="#000" stroke-width="1.05"/>
<line x1="530.00" y1="349.69" x2="521.30" y2="349.69" stroke="#000" stroke-width="1.05"/>
<line x1="120.00" y1="331.46" x2="128.70" y2="331.46" stroke="#000" stroke-width="1.05"/>
<line x1="530.00" y1="331.46" x2="521.30" y2="331.46" stroke="#000" stroke-width="1.05"/>
<line x1="120.00" y1="315.68" x2="128.70" y2="315.68" stroke="#000" stroke-width="1.05"/>
<line x1="530.00" y1="315.68" x2="521.30" y2="315.68" stroke="#000" stroke-width="1.05"/>
<line x1="120.00" y1="301.76" x2="128.70" y2="301.76" stroke="#000" stroke-width="1.05"/>
<line x1="530.00" y1="301.76" x2="521.30" y2="301.76" stroke="#000" stroke-width="1.05"/>
<line x1="120.00" y1="207.36" x2="128.70" y2="207.36" stroke="#000" stroke-width="1.05"/>
<line x1="530.00" y1="207.36" x2="521.30" y2="207.36" stroke="#000" stroke-width="1.05"/>
<line x1="120.00" y1="159.43" x2="128.70" y2="159.43" stroke="#000" stroke-width="1.05"/>
<line x1="530.00" y1="159.43" x2="521.30" y2="159.43" stroke="#000" stroke-width="1.05"/>
<line x1="120.00" y1="125.42" x2="128.70" y2="125.42" stroke="#000" stroke-width="1.05"/>
<line x1="530.00" y1="125.42" x2="521.30" y2="125.42" stroke="#000" stroke-width="1.05"/>
<line x1="120.00" y1="99.04" x2="128.70" y2="99.04" stroke="#000" stroke-width="1.05"/>
<line x1="530.00" y1="99.04" x2="521.30" y2="99.04" stroke="#000" stroke-width="1.05"/>
<line x1="120.00" y1="77.49" x2="128.70" y2="77.49" stroke="#000" stroke-width="1.05"/>
<line x1="530.00" y1="77.49" x2="521.30" y2="77.49" stroke="#000" stroke-width="1.05"/>
<line x1="120.00" y1="59.26" x2="128.70" y2="59.26" stroke="#000" stroke-width="1.05"/>
<line x1="530.00" y1="59.26" x2="521.30" y2="59.26" stroke="#000" stroke-width="1.05"/>
<line x1="120.00" y1="43.48" x2="128.70" y2="43.48" stroke="#000" stroke-width="1.05"/>
<line x1="530.00" y1="43.48" x2="521.30" y2="43.48" stroke="#000" stroke-width="1.05"/>
<line x1="120.00" y1="29.56" x2="128.70" y2="29.56" stroke="#000" stroke-width="1.05"/>
<line x1="530.00" y1="29.56" x2="521.30" y2="29.56" stroke="#000" stroke-width="1.05"/>
<line x1="157.30" y1="604.00" x2="157.30" y2="589.20" stroke="#000" stroke-width="1.05"/>
<line x1="157.30" y1="16.70" x2="157.30" y2="31.50" stroke="#000" stroke-width="1.05"/>
<line x1="231.84" y1="604.00" x2="231.84" y2="589.20" stroke="#000" stroke-width="1.05"/>
<line x1="231.84" y1="16.70" x2="231.84" y2="31.50" stroke="#000" stroke-width="1.05"/>
<line x1="306.38" y1="604.00" x2="306.38" y2="589.20" stroke="#000" stroke-width="1.05"/>
<line x1="306.38" y1="16.70" x2="306.38" y2="31.50" stroke="#000" stroke-width="1.05"/>
<line x1="380.92" y1="604.00" x2="380.92" y2="589.20" stroke="#000" stroke-width="1.05"/>
<line x1="380.92" y1="16.70" x2="380.92" y2="31.50" stroke="#000" stroke-width="1.05"/>
<line x1="455.46" y1="604.00" x2="455.46" y2="589.20" stroke="#000" stroke-width="1.05"/>
<line x1="455.46" y1="16.70" x2="455.46" y2="31.50" stroke="#000" stroke-width="1.05"/>
<line x1="530.00" y1="604.00" x2="530.00" y2="589.20" stroke="#000" stroke-width="1.05"/>
<line x1="530.00" y1="16.70" x2="530.00" y2="31.50" stroke="#000" stroke-width="1.05"/>
<rect x="327.1" y="54.2" width="181.1" height="148.4" fill="#1a1a1a"/>
<rect x="313.6" y="40.7" width="181.4" height="148.7" fill="#fff" stroke="#000" stroke-width="1.1"/>
<line x1="325.5" y1="65.8" x2="360.2" y2="65.8" stroke="#009634" stroke-width="3.1" stroke-linecap="round"/>
<line x1="325.5" y1="98.8" x2="360.2" y2="98.8" stroke="#000" stroke-width="3.1" stroke-linecap="round"/>
<line x1="325.5" y1="131.7" x2="360.2" y2="131.7" stroke="#ff0000" stroke-width="3.1" stroke-linecap="round"/>
<line x1="325.5" y1="164.7" x2="360.2" y2="164.7" stroke="#0000ff" stroke-width="3.1" stroke-linecap="round"/>
<ellipse cx="152.9" cy="52.0" rx="4.1" ry="3.95" fill="none" stroke="#000" stroke-width="1.1"/><ellipse cx="162.8" cy="51.95" rx="4.65" ry="5.1" fill="none" stroke="#000" stroke-width="1.2"/>
<path d="M156.5,54.6 L158.7,49.4" stroke="#000" stroke-width="1.5" fill="none"/>
<line x1="158.45" y1="70" x2="158.45" y2="99" stroke="#000" stroke-width="1.2"/>
<path d="M158.45,66.9 L153.6,76.0 L158.45,71.0 L163.3,76.0 Z" fill="#000" stroke="#000" stroke-width="1.1" stroke-linejoin="round"/>
<g><rect x="63.05" y="7.10" width="2.70" height="18.40" fill="#000"/><path d="M63.25,7.10 L61.40,7.10 L60.10,9.70 L63.25,9.70 Z" fill="#000"/><ellipse cx="80.65" cy="16.30" rx="5.75" ry="8.20" fill="none" stroke="#000" stroke-width="2.4"/><ellipse cx="96.70" cy="16.30" rx="5.50" ry="8.20" fill="none" stroke="#000" stroke-width="2.4"/><rect x="79.15" y="279.40" width="2.70" height="18.40" fill="#000"/><path d="M79.35,279.40 L77.30,279.40 L76.00,282.00 L79.35,282.00 Z" fill="#000"/><ellipse cx="96.20" cy="288.60" rx="5.70" ry="8.20" fill="none" stroke="#000" stroke-width="2.4"/><rect x="95.25" y="552.40" width="2.70" height="18.50" fill="#000"/><path d="M95.45,552.40 L93.10,552.40 L91.80,555.00 L95.45,555.00 Z" fill="#000"/><ellipse cx="156.45" cy="634.20" rx="5.35" ry="8.50" fill="none" stroke="#000" stroke-width="2.4"/><ellipse cx="219.85" cy="634.20" rx="5.45" ry="8.50" fill="none" stroke="#000" stroke-width="2.4"/><circle cx="231.00" cy="641.90" r="1.65" fill="#000"/><path d="M237.20,630.30 C237.20,627.10 239.50,625.90 242.10,625.90 C244.90,625.90 246.70,628.00 246.70,630.10 C246.70,631.90 245.70,633.20 244.50,634.50 L237.10,642.50 L247.80,642.50" fill="none" stroke="#000" stroke-width="2.3" stroke-linejoin="miter"/><ellipse cx="294.75" cy="634.20" rx="5.45" ry="8.50" fill="none" stroke="#000" stroke-width="2.4"/><circle cx="305.90" cy="641.90" r="1.65" fill="#000"/><path d="M324.50,638.90 L312.20,638.90 L321.90,625.80 L321.90,643.40" fill="none" stroke="#000" stroke-width="2.3" stroke-linejoin="miter" stroke-miterlimit="6"/><ellipse cx="369.35" cy="634.20" rx="5.45" ry="8.50" fill="none" stroke="#000" stroke-width="2.4"/><circle cx="380.50" cy="641.90" r="1.65" fill="#000"/><path d="M394.00,625.20 L387.60,634.30" fill="none" stroke="#000" stroke-width="2.3"/><circle cx="391.95" cy="637.15" r="5.2" fill="none" stroke="#000" stroke-width="2.3"/><ellipse cx="443.85" cy="634.20" rx="5.45" ry="8.50" fill="none" stroke="#000" stroke-width="2.4"/><circle cx="455.00" cy="641.90" r="1.65" fill="#000"/><ellipse cx="466.00" cy="629.40" rx="4.35" ry="3.65" fill="none" stroke="#000" stroke-width="2.3"/><ellipse cx="466.10" cy="638.60" rx="4.9" ry="3.95" fill="none" stroke="#000" stroke-width="2.3"/><rect x="528.15" y="625.20" width="2.60" height="18.30" fill="#000"/><path d="M528.35,625.20 L526.40,625.20 L525.10,627.80 L528.35,627.80 Z" fill="#000"/></g>
<path d="M28.1,256.0 L28.1,265.6 C28.3,266.9 29.3,267.7 31.2,268.1" fill="none" stroke="#000" stroke-width="2.0"/>
<path d="M28.5,261.9 C32.5,261.9 35.5,261.9 38.6,261.7 C41.0,261.5 42.0,260.6 41.9,259.4 C41.8,258.2 40.4,257.4 38.2,257.2" fill="none" stroke="#000" stroke-width="1.7"/>
<g fill="#000">
<text transform="matrix(0.19422,0,0,0.22042,375.521,72.805)" font-family="Liberation Sans" font-style="normal" font-weight="normal" font-size="100" stroke="#000" stroke-width="0.35" vector-effect="non-scaling-stroke">BCC</text>
<text transform="matrix(0.19870,0,0,0.22042,374.685,105.605)" font-family="Liberation Sans" font-style="normal" font-weight="normal" font-size="100" stroke="#000" stroke-width="0.35" vector-effect="non-scaling-stroke">FCC</text>
<text transform="matrix(0.18808,0,0,0.22746,375.335,138.698)" font-family="Liberation Sans" font-style="normal" font-weight="normal" font-size="100" stroke="#000" stroke-width="0.35" vector-effect="non-scaling-stroke">SC</text>
<text transform="matrix(0.22871,0,0,0.20798,375.618,171.057)" font-family="Liberation Sans" font-style="normal" font-weight="normal" font-size="100" stroke="#000" stroke-width="0.35" vector-effect="non-scaling-stroke">Tetragonal</text>
<text transform="matrix(0.26354,0,0,0.24324,109.492,683.757)" font-family="Liberation Sans" font-style="normal" font-weight="normal" font-size="100" >Normalized</text>
<text transform="matrix(0.26125,0,0,0.24324,252.210,683.757)" font-family="Liberation Sans" font-style="normal" font-weight="normal" font-size="100" >Effective</text>
<text transform="matrix(0.24561,0,0,0.25000,360.335,684.250)" font-family="Liberation Sans" font-style="normal" font-weight="normal" font-size="100" >Porosity</text>
<text transform="matrix(0.35429,0,0,0.32083,454.483,683.679)" font-family="Liberation Serif" font-style="normal" font-weight="normal" font-size="100" >ε</text>
<text transform="matrix(0.15750,0,0,0.18611,473.112,672.697)" font-family="Liberation Serif" font-style="normal" font-weight="normal" font-size="100" >*</text>
<text transform="matrix(0.21938,0,0,0.21196,472.319,688.849)" font-family="Liberation Serif" font-style="italic" font-weight="normal" font-size="100" >Eff</text>
<text transform="matrix(0.29091,0,0,0.28617,509.855,683.590)" font-family="Liberation Sans" font-style="normal" font-weight="normal" font-size="100" >(-)</text>
<text transform="matrix(0,-0.28850,0.28511,0,41.913,403.377)" font-family="Liberation Sans" font-style="normal" font-weight="normal" font-size="100" >Tortuosity</text>
<text transform="matrix(0,-0.28523,0.28936,0,41.723,244.911)" font-family="Liberation Sans" font-style="normal" font-weight="normal" font-size="100" >(-)</text>
</g></svg>
</body></html>
